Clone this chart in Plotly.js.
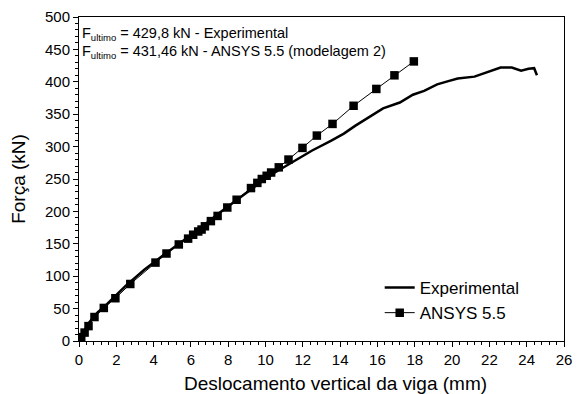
<!DOCTYPE html>
<html>
<head>
<meta charset="utf-8">
<script src="https://cdn.plot.ly/plotly-3.0.1.min.js"></script>
<style>html,body{margin:0;padding:0;background:#fff;}#chart{width:578px;height:394px;}</style>
</head>
<body>
<div id="chart"></div>
<script>
// Experimental load-displacement curve
const expX = [0, 0.2, 0.5, 1.0, 1.5, 2.5, 3.5, 4.5, 5.5, 6.5, 7.5, 8.5, 9.5, 10.5, 11.5, 12.5, 13.5, 14.2, 14.8, 15.5, 16.3, 17.2, 17.9, 18.5, 19.2, 19.8, 20.3, 21.2, 21.6, 22.1, 22.6, 23.2, 23.7, 24.1, 24.4, 24.55];
const expF = [0, 11, 27, 44, 57, 85, 110, 132, 153, 174, 197, 219, 240, 260, 277, 294, 309, 320, 332, 345, 359, 368, 380, 386, 396, 401, 405, 408, 412, 418, 422, 422, 417, 420, 421, 410];
// ANSYS 5.5 numerical curve
const ansX = [0, 0.05, 0.12, 0.3, 0.51, 0.83, 1.33, 1.95, 2.75, 4.1, 4.69, 5.35, 5.85, 6.12, 6.39, 6.57, 6.75, 7.07, 7.43, 7.95, 8.45, 9.22, 9.56, 9.8, 10.06, 10.3, 10.71, 11.23, 11.98, 12.75, 13.59, 14.72, 15.94, 16.91, 17.95];
const ansF = [0, 3, 6, 13, 23, 37, 51, 66, 88, 121, 135, 149, 158, 164, 169, 172, 177, 185, 193, 206, 218, 236, 244, 250, 255, 260, 268, 280, 298, 317, 335, 363, 389, 410, 431.46];
const xTicks = [0, 2, 4, 6, 8, 10, 12, 14, 16, 18, 20, 22, 24, 26];
const yTicks = [0, 50, 100, 150, 200, 250, 300, 350, 400, 450, 500];
const seriesNames = ["Experimental", "ANSYS 5.5"];
const xTitle = "Deslocamento vertical da viga (mm)";
const yTitle = "Força (kN)";
const noteLines = ["F<sub><span style=\"font-size:9.5px\">ultimo</span></sub> = 429,8 kN - Experimental",
                   "F<sub><span style=\"font-size:9.5px\">ultimo</span></sub> = 431,46 kN - ANSYS 5.5 (modelagem 2)"];

const traces = [
  {x: expX, y: expF, name: seriesNames[0], mode: "lines", line: {color: "#000", width: 2.5}},
  {x: ansX, y: ansF, name: seriesNames[1], mode: "lines+markers", line: {color: "#000", width: 1},
   marker: {symbol: "square", size: 8.5, color: "#000"}}
];

const fam = '"Liberation Sans", Arial, sans-serif';
const f = (s) => ({family: fam, size: s, color: "#000"});
const layout = {
  width: 578, height: 394,
  margin: {l: 79, r: 14, t: 17, b: 53},
  paper_bgcolor: "#fff", plot_bgcolor: "#fff",
  font: f(15),
  showlegend: true,
  legend: {x: 0.62, y: 0.125, xanchor: "left", yanchor: "middle", bgcolor: "rgba(0,0,0,0)",
           font: f(17), tracegroupgap: 0},
  xaxis: {
    range: [0, 26], tickvals: xTicks, ticktext: xTicks.map(String),
    showgrid: false, zeroline: false, showline: true, linecolor: "#000", linewidth: 1, mirror: true,
    ticks: "outside", ticklen: 5, tickcolor: "#000",
    minor: {dtick: 0.4, tick0: 0, ticks: "outside", ticklen: 3, tickcolor: "#000"},
    tickfont: f(15)
  },
  yaxis: {
    range: [0, 500], tickvals: yTicks, ticktext: yTicks.map(String),
    showgrid: false, zeroline: false, showline: true, linecolor: "#000", linewidth: 1, mirror: true,
    ticks: "outside", ticklen: 5, tickcolor: "#000",
    minor: {dtick: 10, tick0: 0, ticks: "outside", ticklen: 3, tickcolor: "#000"},
    tickfont: f(15),
    title: {text: yTitle, font: f(19), standoff: 14}
  },
  annotations: [
    {xref: "paper", yref: "paper", x: 0.002, y: 0.948, xanchor: "left", yanchor: "middle",
     text: noteLines[0], showarrow: false, font: f(14.5)},
    {xref: "paper", yref: "paper", x: 0.002, y: 0.893, xanchor: "left", yanchor: "middle",
     text: noteLines[1], showarrow: false, font: f(14.5)},
    {xref: "paper", yref: "paper", x: 0.528, y: -0.13, xanchor: "center", yanchor: "middle",
     text: xTitle, showarrow: false, font: f(19)}
  ]
};
Plotly.newPlot("chart", traces, layout, {displayModeBar: false, staticPlot: true});
</script>
</body>
</html>
